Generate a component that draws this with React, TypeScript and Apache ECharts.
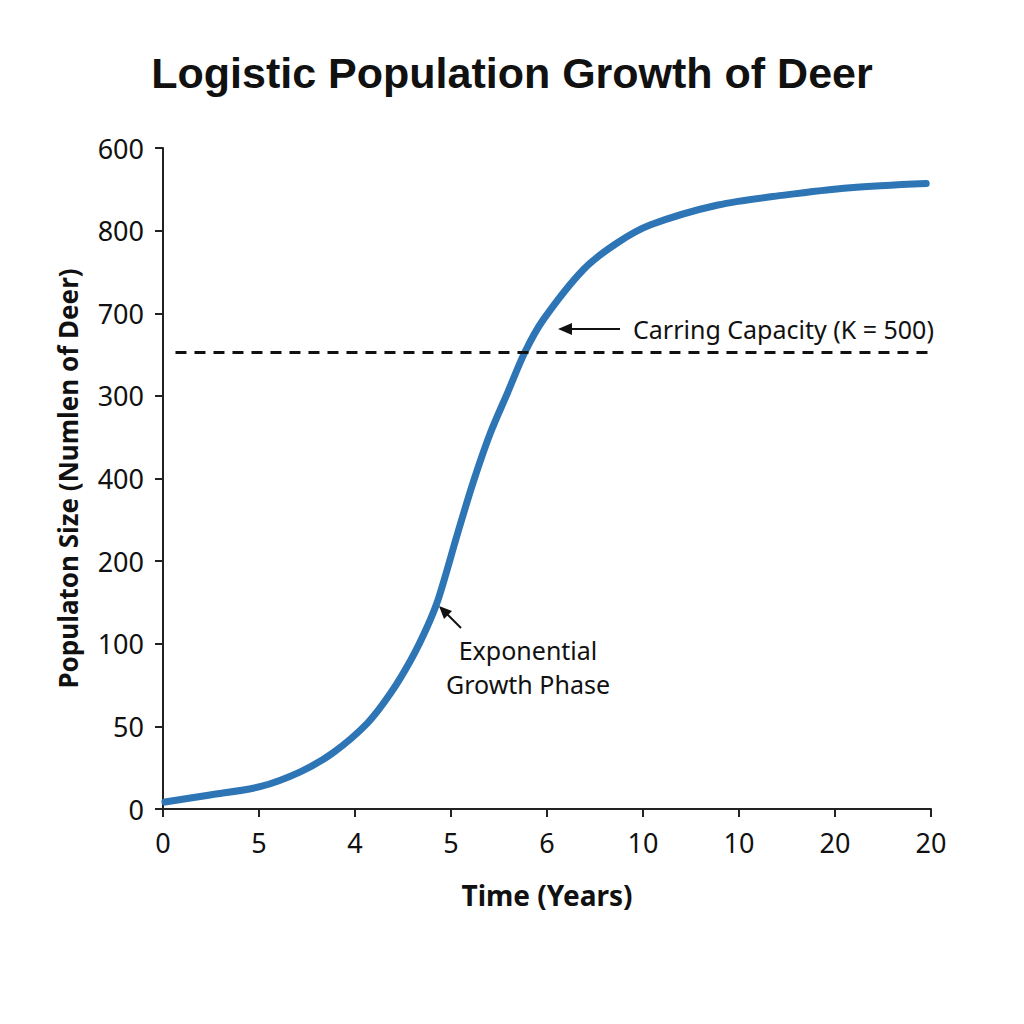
import React, { useEffect, useRef } from "react";
import * as echarts from "echarts";

const xTickLabels = ["0", "5", "4", "5", "6", "10", "10", "20", "20"];
const yTickLabels = ["0", "50", "100", "200", "400", "300", "700", "800", "600"];

// curve positions expressed on the tick-index scale of each axis
const curveX = [0.02, 0.49, 1.01, 1.43, 1.77, 2.13, 2.37, 2.58, 2.75, 2.87, 3.07, 3.23, 3.41, 3.59, 3.77, 3.96, 4.38, 4.73, 5.08, 5.78, 6.47, 7.16, 7.95];
const curveY = [0.085, 0.17, 0.27, 0.45, 0.68, 1.04, 1.4, 1.8, 2.2, 2.55, 3.34, 3.95, 4.55, 5.04, 5.53, 5.92, 6.53, 6.85, 7.07, 7.31, 7.43, 7.52, 7.57];

const capacityLevel = 5.53;
const capacityStart = 0.13;
const capacityEnd = 8.0;

const titleText = "Logistic Population Growth of Deer";
const xName = "Time (Years)";
const yName = "Populaton Size (Numlen of Deer)";
const capacityLabel = "Carring Capacity (K = 500)";
const expLabel = "Exponential\nGrowth Phase";

export default function App() {
  const ref = useRef<HTMLDivElement>(null);
  useEffect(() => {
    if (!ref.current) return;
    const chart = echarts.init(ref.current, null, { renderer: "svg" });
    const font = "'Noto Sans', 'Open Sans', sans-serif";
    chart.setOption({
      animation: false,
      backgroundColor: "#ffffff",
      title: {
        text: titleText,
        left: "center",
        top: 46,
        textStyle: { fontFamily: "'Liberation Sans', Arial, sans-serif", fontWeight: "bold", fontSize: 43, color: "#111" },
      },
      grid: { left: 163, right: 93, top: 148, bottom: 215, containLabel: false },
      xAxis: {
        type: "value",
        min: 0,
        max: 8,
        interval: 1,
        name: xName,
        nameLocation: "middle",
        nameGap: 72,
        nameTextStyle: { fontFamily: font, fontWeight: "bold", fontSize: 28, color: "#111" },
        axisLine: { lineStyle: { color: "#222", width: 2 } },
        axisTick: { show: true, length: 8, lineStyle: { color: "#222", width: 2 } },
        splitLine: { show: false },
        axisLabel: {
          margin: 20,
          fontFamily: font,
          fontSize: 27,
          color: "#111",
          formatter: (v: number) => xTickLabels[Math.round(v)] ?? "",
        },
      },
      yAxis: {
        type: "value",
        min: 0,
        max: 8,
        interval: 1,
        name: yName,
        nameLocation: "middle",
        nameGap: 82,
        nameTextStyle: { fontFamily: font, fontWeight: "bold", fontSize: 26, color: "#111" },
        axisLine: { show: true, lineStyle: { color: "#222", width: 2 } },
        axisTick: { show: true, length: 8, lineStyle: { color: "#222", width: 2 } },
        splitLine: { show: false },
        axisLabel: {
          margin: 19,
          fontFamily: font,
          fontSize: 27,
          color: "#111",
          formatter: (v: number) => yTickLabels[Math.round(v)] ?? "",
        },
      },
      series: [
        {
          type: "line",
          data: curveX.map((x, i) => [x, curveY[i]]),
          smooth: 0.3,
          showSymbol: false,
          symbol: "none",
          clip: false,
          lineStyle: { color: "#2e75b6", width: 7, cap: "round", join: "round" },
          z: 3,
        },
        {
          type: "line",
          data: [],
          markLine: {
            silent: true,
            symbol: ["none", "none"],
            label: { show: false },
            lineStyle: { color: "#111", width: 3, type: [11, 8] },
            data: [[{ coord: [capacityStart, capacityLevel] }, { coord: [capacityEnd, capacityLevel] }]],
          },
          z: 2,
        },
      ],
      graphic: [
        { type: "line", shape: { x1: 620, y1: 329, x2: 568, y2: 329 }, style: { stroke: "#111", lineWidth: 2 } },
        { type: "polygon", shape: { points: [[558, 329], [572, 323], [572, 335]] }, style: { fill: "#111" } },
        {
          type: "text",
          x: 633,
          y: 329,
          style: { text: capacityLabel, fontFamily: font, fontSize: 25, fill: "#111", verticalAlign: "middle", align: "left" },
        },
        { type: "line", shape: { x1: 461, y1: 628, x2: 446, y2: 613 }, style: { stroke: "#111", lineWidth: 2 } },
        { type: "polygon", shape: { points: [[439, 606], [452, 611], [444, 619]] }, style: { fill: "#111" } },
        {
          type: "text",
          x: 528,
          y: 667,
          style: { text: expLabel, fontFamily: font, fontSize: 25, lineHeight: 34, fill: "#111", verticalAlign: "middle", align: "center" },
        },
      ],
    });
    return () => chart.dispose();
  }, []);
  return <div ref={ref} style={{ width: 1024, height: 1024, position: "absolute", left: 0, top: 0 }} />;
}
